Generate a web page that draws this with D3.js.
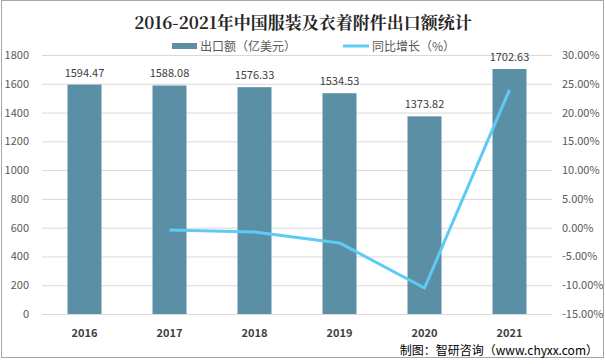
<!DOCTYPE html>
<html>
<head>
<meta charset="utf-8">
<script src="https://cdn.jsdelivr.net/npm/d3@7"></script>
<style>
  body { margin: 0; background: #fff; }
  svg { display: block; font-family: "Microsoft YaHei", "Noto Sans CJK SC", sans-serif; }
</style>
</head>
<body>
<script>
const years = ["2016", "2017", "2018", "2019", "2020", "2021"];
const exportValue = [1594.47, 1588.08, 1576.33, 1534.53, 1373.82, 1702.63];
const growth = [null, -0.40, -0.74, -2.65, -10.48, 23.93];
const leftTicks = [0, 200, 400, 600, 800, 1000, 1200, 1400, 1600, 1800];
const rightTicks = [-15, -10, -5, 0, 5, 10, 15, 20, 25, 30];

const width = 606, height = 364;
const margin = {top: 55, right: 54, bottom: 50, left: 42};
const barColor = "#5b8fa6", lineColor = "#5ecbf5";

let svg = d3.select("body").append("svg")
  .attr("width", width)
  .attr("height", height);

// outer frame
svg.append("rect")
  .attr("x", 1.5).attr("y", 0.5)
  .attr("width", width - 4).attr("height", height - 7)
  .attr("fill", "none").attr("stroke", "#a6a6a6");

let x = d3.scaleBand()
  .domain(years)
  .range([margin.left, width - margin.right])
  .paddingInner(0.6).paddingOuter(0.3);

let yL = d3.scaleLinear().domain([0, 1800]).range([height - margin.bottom, margin.top]);
let yR = d3.scaleLinear().domain([-15, 30]).range([height - margin.bottom, margin.top]);

// gridlines
svg.append("g")
  .selectAll("line")
  .data(leftTicks)
  .enter().append("line")
    .attr("x1", margin.left).attr("x2", width - margin.right)
    .attr("y1", d => yL(d) + 0.5).attr("y2", d => yL(d) + 0.5)
    .attr("stroke", "#d9d9d9");

// left axis labels
svg.append("g")
  .selectAll("text")
  .data(leftTicks)
  .enter().append("text")
    .attr("x", 29).attr("y", d => yL(d) + 4)
    .attr("text-anchor", "end")
    .attr("font-size", 11).attr("fill", "#595959")
    .text(d => d);

// right axis labels
svg.append("g")
  .selectAll("text")
  .data(rightTicks)
  .enter().append("text")
    .attr("x", 562).attr("y", d => yR(d) + 4)
    .attr("font-size", 11).attr("fill", "#595959")
    .text(d => d.toFixed(2) + "%");

// bars
svg.append("g")
  .selectAll("rect")
  .data(exportValue)
  .enter().append("rect")
    .attr("x", (d, i) => x(years[i]))
    .attr("y", d => yL(d))
    .attr("width", x.bandwidth())
    .attr("height", d => yL(0) - yL(d))
    .attr("fill", barColor);

// bar labels
svg.append("g")
  .selectAll("text")
  .data(exportValue)
  .enter().append("text")
    .attr("x", (d, i) => x(years[i]) + x.bandwidth() / 2)
    .attr("y", d => yL(d) - 8)
    .attr("text-anchor", "middle")
    .attr("font-size", 11).attr("fill", "#404040")
    .text(d => d.toFixed(2));

// x labels
svg.append("g")
  .selectAll("text")
  .data(years)
  .enter().append("text")
    .attr("x", d => x(d) + x.bandwidth() / 2)
    .attr("y", 337)
    .attr("text-anchor", "middle")
    .attr("font-size", 11).attr("font-weight", "bold").attr("fill", "#404040")
    .text(d => d);

// growth line
let line = d3.line()
  .defined(d => d != null)
  .x((d, i) => x(years[i]) + x.bandwidth() / 2)
  .y(d => yR(d));

svg.append("path")
  .datum(growth)
  .attr("d", line)
  .attr("fill", "none")
  .attr("stroke", lineColor)
  .attr("stroke-width", 3)
  .attr("stroke-linejoin", "round");

// title
svg.append("text")
  .attr("x", 303).attr("y", 29)
  .attr("text-anchor", "middle")
  .attr("font-size", 17).attr("font-weight", "bold").attr("fill", "#262626")
  .attr("font-family", "'Noto Serif CJK SC', 'Noto Sans CJK SC', serif")
  .text("2016-2021年中国服装及衣着附件出口额统计");

// legend
let legend = svg.append("g").attr("id", "legend");
legend.append("rect")
  .attr("x", 172).attr("y", 43).attr("width", 25).attr("height", 6)
  .attr("fill", barColor);
legend.append("text")
  .attr("x", 200).attr("y", 51)
  .attr("font-size", 12).attr("fill", "#595959")
  .text("出口额（亿美元）");
legend.append("line")
  .attr("x1", 343).attr("x2", 369).attr("y1", 46).attr("y2", 46)
  .attr("stroke", lineColor).attr("stroke-width", 3);
legend.append("text")
  .attr("x", 372).attr("y", 51)
  .attr("font-size", 12).attr("fill", "#595959")
  .text("同比增长（%）");

// source
svg.append("text")
  .attr("x", 598).attr("y", 355)
  .attr("text-anchor", "end")
  .attr("font-size", 12).attr("fill", "#000")
  .text("制图：智研咨询（www.chyxx.com）");
</script>
</body>
</html>
